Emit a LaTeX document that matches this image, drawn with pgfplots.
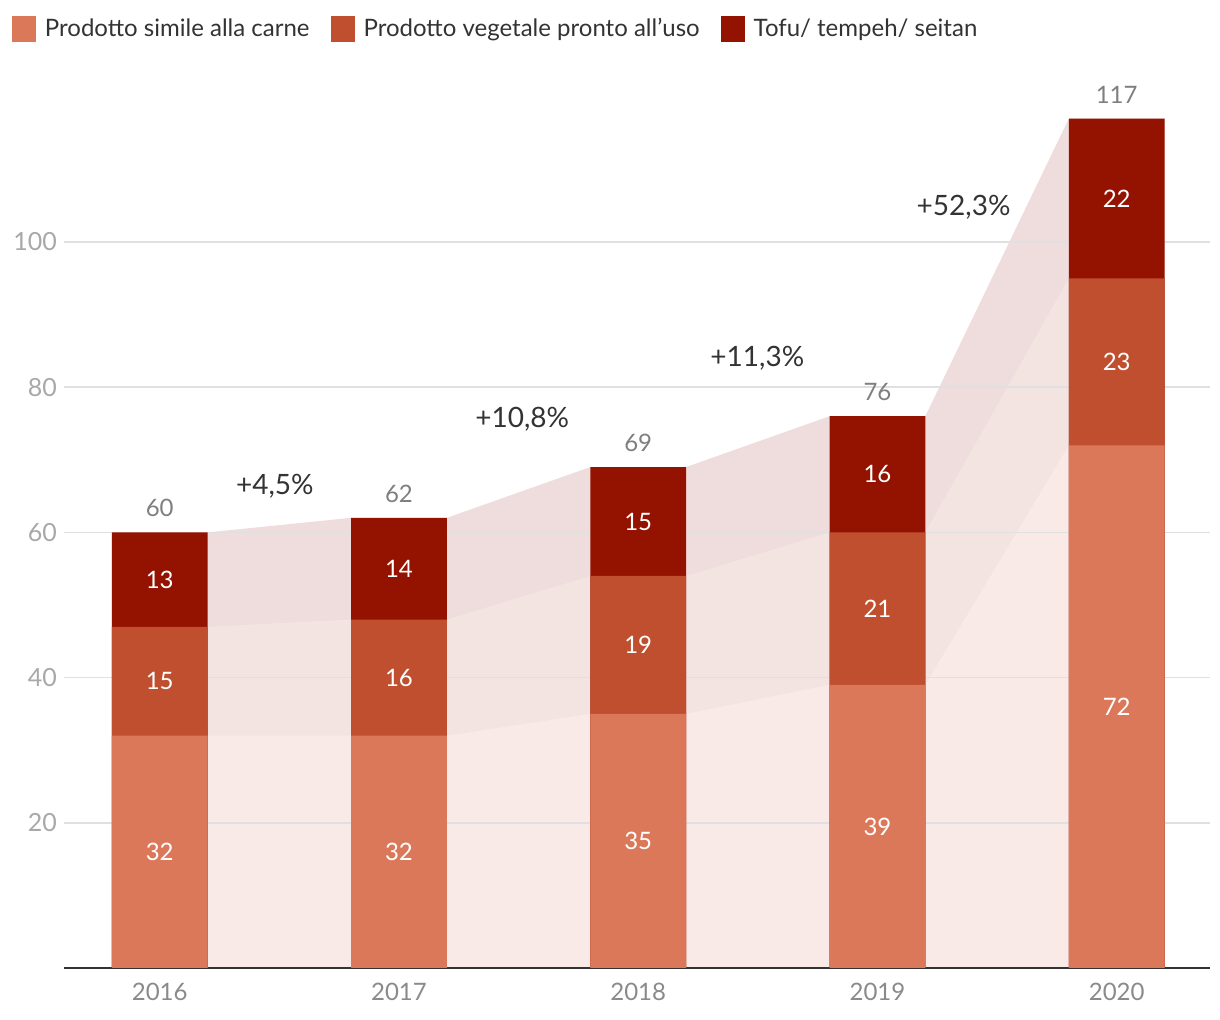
\documentclass[border=0pt]{standalone}
\usepackage{pgfplots}
\pgfplotsset{compat=1.18}
\usepackage{fontspec}
\setmainfont{Lato}
\definecolor{cA}{HTML}{DC785A}
\definecolor{cB}{HTML}{BF4F2E}
\definecolor{cC}{HTML}{931300}
\definecolor{bA}{HTML}{F9EAE7}
\definecolor{bB}{HTML}{F3E4E2}
\definecolor{bC}{HTML}{EFDCDC}
\definecolor{tick}{HTML}{A8A8A8}
\definecolor{year}{HTML}{8A8A8A}
\definecolor{tot}{HTML}{7F7F7F}
\definecolor{dark}{HTML}{333333}
\begin{document}
\begin{tikzpicture}
\begin{axis}[
  set layers,
  at={(0,0)}, anchor=south west,
  scale only axis,
  width=573pt, height=453.75pt,
  xmin=-0.4, xmax=4.39,
  ymin=0, ymax=125,
  clip=false,
  axis x line=bottom,
  axis y line=left,
  x axis line style={-, draw=dark, line width=1.3pt},
  y axis line style={draw=none},
  major tick length=0pt,
  xtick={0,1,2,3,4},
  xticklabels={2016,2017,2018,2019,2020},
  ytick={20,40,60,80,100},
  ymajorgrids,
  grid style={draw=black!12, line width=0.8pt},
  /pgf/number format/assume math mode=true,
  yticklabel style={font=\fontsize{12.5}{14}\selectfont, text=tick},
  xticklabel style={font=\fontsize{12}{14}\selectfont, text=year, yshift=-4pt},
  legend columns=-1,
  legend style={at={(0,1)}, anchor=north west, xshift=-26pt, yshift=23pt,
    draw=none, fill=none, inner sep=0pt, outer sep=0pt,
    font=\fontsize{12}{14}\selectfont, text=dark,
    /tikz/every odd column/.append style={column sep=2.5pt},
    /tikz/every even column/.append style={column sep=8.5pt}},
  legend image code/.code={\fill[#1] (0pt,-6.5pt) rectangle (12pt,6.5pt);},
]
% legend
\addlegendimage{fill=cA, draw=none}
\addlegendentry{Prodotto simile alla carne}
\addlegendimage{fill=cB, draw=none}
\addlegendentry{Prodotto vegetale pronto all'uso}
\addlegendimage{fill=cC, draw=none}
\addlegendentry{Tofu/ tempeh/ seitan}

% connecting bands
\addplot[on layer=axis background, fill=bC, draw=none, forget plot]
  coordinates {(-0.2,60)(0.2,60)(0.8,62)(1.2,62)(1.8,69)(2.2,69)(2.8,76)(3.2,76)(3.8,117)(4.2,117)} \closedcycle;
\addplot[on layer=axis background, fill=bB, draw=none, forget plot]
  coordinates {(-0.2,47)(0.2,47)(0.8,48)(1.2,48)(1.8,54)(2.2,54)(2.8,60)(3.2,60)(3.8,95)(4.2,95)} \closedcycle;
\addplot[on layer=axis background, fill=bA, draw=none, forget plot]
  coordinates {(-0.2,32)(0.2,32)(0.8,32)(1.2,32)(1.8,35)(2.2,35)(2.8,39)(3.2,39)(3.8,72)(4.2,72)} \closedcycle;

% bars (cumulative, drawn back to front)
\addplot[ybar, bar width=0.4, bar shift=0pt, fill=cC, draw=none, forget plot]
  coordinates {(0,60)(1,62)(2,69)(3,76)(4,117)};
\addplot[ybar, bar width=0.4, bar shift=0pt, fill=cB, draw=none, forget plot]
  coordinates {(0,47)(1,48)(2,54)(3,60)(4,95)};
\addplot[ybar, bar width=0.4, bar shift=0pt, fill=cA, draw=none, forget plot]
  coordinates {(0,32)(1,32)(2,35)(3,39)(4,72)};

% segment labels
\addplot[draw=none, mark=none, forget plot, nodes near coords, point meta=explicit symbolic,
  every node near coord/.style={anchor=center, text=white, font=\fontsize{12}{14}\selectfont}]
  coordinates {(0,16)[32] (1,16)[32] (2,17.5)[35] (3,19.5)[39] (4,36)[72]
               (0,39.5)[15] (1,40)[16] (2,44.5)[19] (3,49.5)[21] (4,83.5)[23]
               (0,53.5)[13] (1,55)[14] (2,61.5)[15] (3,68)[16] (4,106)[22]};

% totals
\addplot[draw=none, mark=none, forget plot, nodes near coords, point meta=explicit symbolic,
  every node near coord/.style={anchor=center, yshift=12pt, text=tot, font=\fontsize{12}{14}\selectfont}]
  coordinates {(0,60)[60] (1,62)[62] (2,69)[69] (3,76)[76] (4,117)[117]};

% growth labels
\addplot[draw=none, mark=none, forget plot, nodes near coords, point meta=explicit symbolic,
  every node near coord/.style={anchor=center, text=dark, font=\fontsize{14}{16}\selectfont}]
  coordinates {(0.481,66.3)[+4,5\%] (1.515,75.6)[+10,8\%] (2.498,84.0)[+11,3\%] (3.36,104.8)[+52,3\%]};
\end{axis}
\pgfresetboundingbox
\path (-32pt,-26pt) rectangle (578pt,484pt);
\end{tikzpicture}
\end{document}
